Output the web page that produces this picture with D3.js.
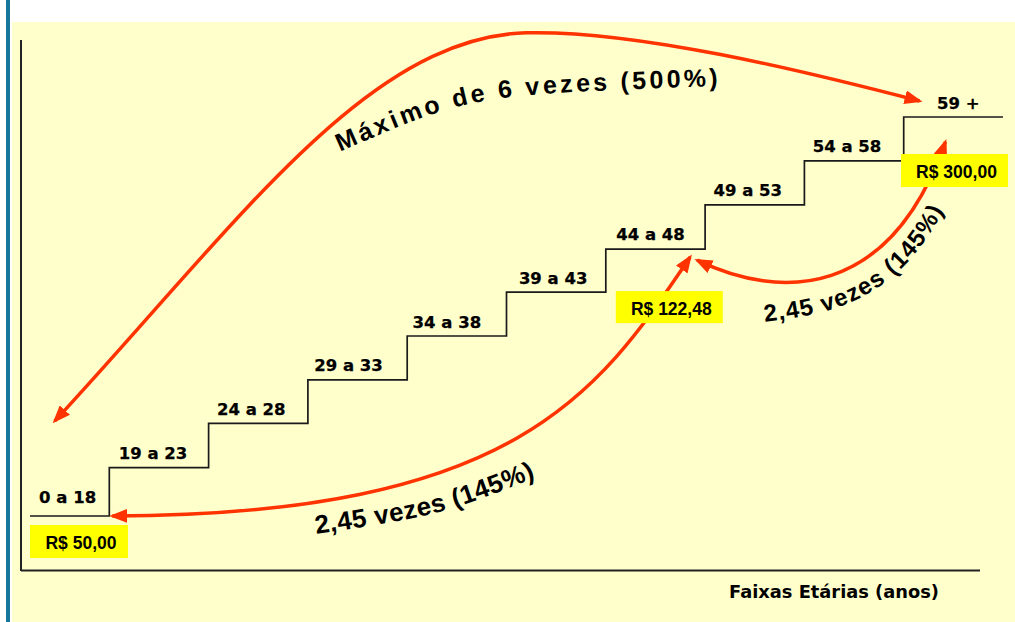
<!DOCTYPE html>
<html><head><meta charset="utf-8">
<script src="https://cdn.jsdelivr.net/npm/d3@7"></script>
<style>html,body{margin:0;padding:0;background:#fff;} svg{display:block}</style>
</head><body>
<svg id="chart" width="1015" height="622"></svg>
<script>
// ---------- DATA ----------
const categories = ["0 a 18", "19 a 23", "24 a 28", "29 a 33", "34 a 38", "39 a 43", "44 a 48", "49 a 53", "54 a 58", "59 +"];
const stepLevels = [0, 1.09, 2.09, 3.07, 4.06, 5.05, 6.02, 7.02, 8.01, 9.0];
const priceLabels = ["R$ 50,00", "R$ 122,48", "R$ 300,00"];
const priceSteps = [0, 6, 9];
const annotationTexts = ["Máximo de 6 vezes (500%)", "2,45 vezes (145%)", "2,45 vezes (145%)"];
const axisTitle = "Faixas Etárias (anos)";

// ---------- LAYOUT ----------
const W = 1015, H = 622;
const RED = "#ff3300";
const labelDx = [-2, -6, -7, -9, -10, -3, -5, -7, -7, 5];
const labelDy = [13, 9, 8.5, 9, 8.5, 8.5, 9.5, 9, 8.7, 8];
const svg = d3.select("#chart");
const x = d3.scaleLinear().domain([0, 10]).range([10, 1003]);
const y = d3.scaleLinear().domain([0, 9]).range([516, 117]);
const P = (v, l) => [x(v), y(l)];

// backgrounds
svg.append("rect").attr("width", W).attr("height", H).attr("fill", "#ffffff");
svg.append("rect").attr("x", 12).attr("y", 22).attr("width", W - 12).attr("height", H - 22).attr("fill", "#ffffcc");
svg.append("rect").attr("x", 6).attr("y", 0).attr("width", 4).attr("height", H).attr("fill", "#17779b");

// axes
svg.append("line").attr("x1", 21).attr("x2", 21).attr("y1", 40).attr("y2", 571)
  .attr("stroke", "#222").attr("stroke-width", 2);
svg.append("line").attr("x1", 21).attr("x2", 980).attr("y1", 570.5).attr("y2", 570.5)
  .attr("stroke", "#222").attr("stroke-width", 2);

// staircase
const pts = categories.map((c, i) => [i === 0 ? 30 : x(i), y(stepLevels[i])]);
pts.push([x(categories.length), y(stepLevels[stepLevels.length - 1])]);
svg.append("path").attr("d", d3.line().curve(d3.curveStepAfter)(pts))
  .attr("fill", "none").attr("stroke", "#1a1a1a").attr("stroke-width", 1.7);

// step labels
svg.selectAll("text.step").data(categories).join("text").attr("class", "step")
  .attr("x", (d, i) => ((i === 0 ? 30 : x(i)) + x(i + 1)) / 2 + labelDx[i])
  .attr("y", (d, i) => y(stepLevels[i]) - labelDy[i])
  .attr("text-anchor", "middle")
  .attr("font-family", "'DejaVu Sans', Verdana, sans-serif").attr("font-weight", "bold")
  .attr("font-size", 16.5).attr("fill", "#000")
  .attr("stroke", "#000").attr("stroke-width", 0.25).text(d => d);

// arrow marker
const defs = svg.append("defs");
defs.append("marker").attr("id", "ah").attr("viewBox", "0 0 18 14")
  .attr("markerUnits", "userSpaceOnUse").attr("markerWidth", 18).attr("markerHeight", 14)
  .attr("refX", 15).attr("refY", 7).attr("orient", "auto-start-reverse")
  .append("path").attr("d", "M0,0 L18,7 L0,14 Z").attr("fill", RED);

function bez(segs) {
  const p = d3.path();
  const s = P(...segs[0]);
  p.moveTo(s[0], s[1]);
  for (let k = 1; k < segs.length; k += 3) {
    const a = P(...segs[k]), b = P(...segs[k + 1]), c = P(...segs[k + 2]);
    p.bezierCurveTo(a[0], a[1], b[0], b[1], c[0], c[1]);
  }
  return p.toString();
}

// arrows (annotation geometry in chart units: step index, level)
const arrowA = [[0.45, 2.14], [2.3, 6.62], [3.6, 10.8], [5.2, 10.9], [6.3, 10.96], [7.96, 10.06], [9.16, 9.36]];
const arrowB = [[1.03, 0], [5.14, 0.02], [5.94, 2.84], [6.85, 5.84]];
const arrowC = [[6.92, 5.77], [7.75, 4.87], [8.86, 4.87], [9.42, 8.44]];
[arrowA, arrowB, arrowC].forEach(a => {
  svg.append("path").attr("d", bez(a)).attr("fill", "none").attr("stroke", RED)
    .attr("stroke-width", 3.5).attr("marker-start", "url(#ah)").attr("marker-end", "url(#ah)");
});

// price boxes (drawn over the arrows)
const boxLayout = [{dx: 0, dy: 9, w: 98, h: 33, x0: 30}, {dx: 10, dy: 42, w: 107, h: 32}, {dx: -2.7, dy: 37, w: 107, h: 33}];
priceLabels.forEach((lab, k) => {
  const i = priceSteps[k], b = boxLayout[k];
  const bx = b.x0 !== undefined ? b.x0 : x(i) + b.dx;
  const by = y(stepLevels[i]) + b.dy;
  svg.append("rect").attr("x", bx).attr("y", by).attr("width", b.w).attr("height", b.h).attr("fill", "#ffff00");
  svg.append("text").attr("x", bx + b.w / 2 + 2).attr("y", by + 24).attr("text-anchor", "middle")
    .attr("font-family", "'Liberation Sans', Arial, sans-serif").attr("font-weight", "bold")
    .attr("font-size", 17.5).attr("fill", "#000").text(lab);
});

// annotation text paths
const textPaths = [
  {pts: [[3.32, 8.21], [4.63, 9.50], [4.63, 9.50], [7.15, 9.70]], size: 25, target: 388},
  {pts: [[3.08, -0.41], [4.33, 0.02], [4.33, 0.02], [5.39, 0.95]], size: 26, target: 228},
  {pts: [[7.6, 4.38], [8.3, 4.56], [8.95, 4.85], [9.45, 7.1]], size: 24, target: 222}
];
textPaths.forEach((t, k) => {
  defs.append("path").attr("id", "tp" + k).attr("d", bez(t.pts));
  const txt = svg.append("text").attr("font-family", "'Liberation Sans', Arial, sans-serif")
    .attr("font-weight", "bold").attr("font-size", t.size).attr("fill", "#000");
  txt.append("textPath").attr("href", "#tp" + k).text(annotationTexts[k]);
  const nat = txt.node().getComputedTextLength();
  const n = annotationTexts[k].length;
  txt.attr("letter-spacing", ((t.target - nat) / (n - 1)).toFixed(2));
});

// axis title
svg.append("text").attr("x", 729).attr("y", 598)
  .attr("font-family", "'DejaVu Sans', Tahoma, sans-serif").attr("font-weight", "bold")
  .attr("font-size", 17.5).attr("textLength", 210).attr("lengthAdjust", "spacingAndGlyphs")
  .attr("fill", "#000").text(axisTitle);
</script>
</body></html>
